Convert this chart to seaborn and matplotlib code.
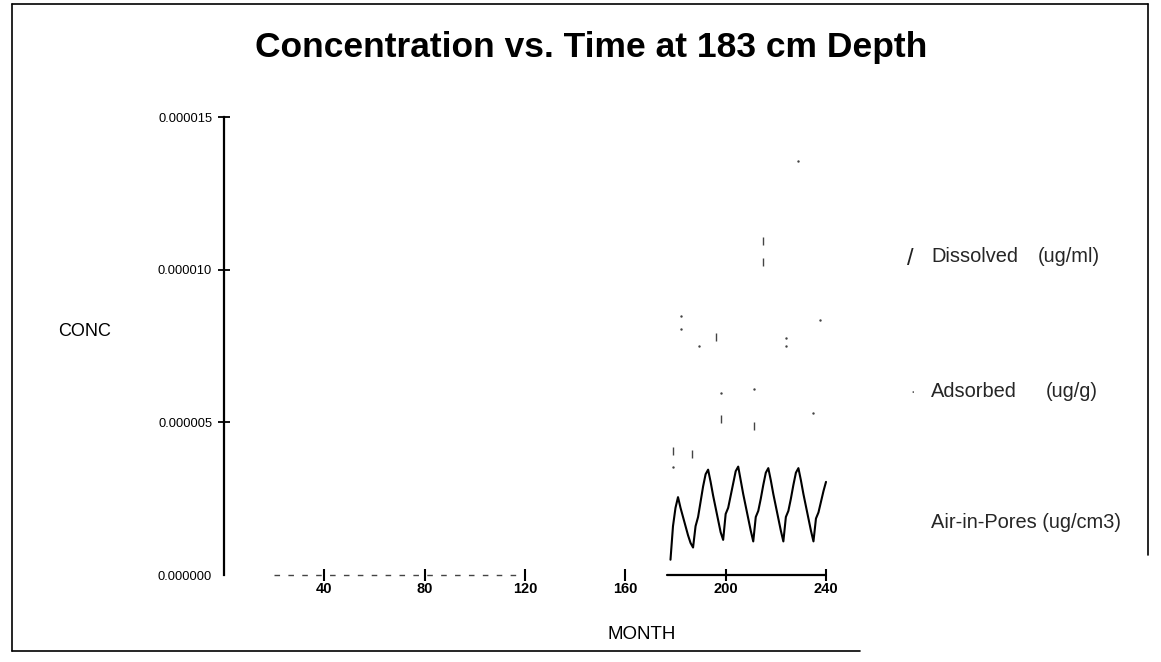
import numpy as np
import pandas as pd
import matplotlib
matplotlib.use('Agg')
import matplotlib.pyplot as plt
from matplotlib.lines import Line2D
from matplotlib.ticker import FormatStrFormatter
import seaborn as sns

# values, concentrations in units of 1e-6
air_months = list(range(178, 241))
air_conc = [0.5, 1.6, 2.2, 2.55, 2.2, 1.9, 1.6, 1.3, 1.05, 0.9,
            1.6, 1.9, 2.4, 2.9, 3.3, 3.45, 3.05, 2.6, 2.2, 1.8, 1.4, 1.15,
            2.0, 2.2, 2.6, 3.0, 3.4, 3.55, 3.1, 2.65, 2.25, 1.85, 1.45, 1.1,
            1.9, 2.1, 2.5, 2.95, 3.35, 3.5, 3.1, 2.65, 2.25, 1.85, 1.45, 1.1,
            1.9, 2.1, 2.5, 2.95, 3.35, 3.5, 3.1, 2.65, 2.25, 1.85, 1.45, 1.1,
            1.85, 2.05, 2.4, 2.75, 3.05]
dissolved_months = [214.7, 214.7, 196.0, 198.0, 211.2, 178.9, 186.5]
dissolved_conc = [10.95, 10.26, 7.8, 5.1, 4.87, 4.05, 3.95]
adsorbed_months = [228.7, 182.1, 182.1, 189.2, 223.9, 223.9, 237.5, 198.0, 211.2, 234.7, 178.9]
adsorbed_conc = [13.55, 8.49, 8.06, 7.5, 7.76, 7.5, 8.36, 5.95, 6.09, 5.3, 3.55]
early_zero_months = [20, 117]
late_zero_months = [176.5, 240]

x_ticks = [40, 80, 120, 160, 200, 240]
y_ticks = [0, 5e-6, 1e-5, 1.5e-5]

title = 'Concentration vs. Time at 183 cm Depth'
legend_items = [('Dissolved', '(ug/ml)'), ('Adsorbed', '(ug/g)'), ('Air-in-Pores (ug/cm3)', '')]

sns.set_theme(style='white')
plt.rcParams['font.family'] = ['Liberation Sans', 'DejaVu Sans']

air_df = pd.DataFrame({'MONTH': air_months, 'CONC': np.array(air_conc) * 1e-6})
dis_df = pd.DataFrame({'MONTH': dissolved_months, 'CONC': np.array(dissolved_conc) * 1e-6})
ads_df = pd.DataFrame({'MONTH': adsorbed_months, 'CONC': np.array(adsorbed_conc) * 1e-6})

W, H = 1161, 662
fig = plt.figure(figsize=(W / 100, H / 100), dpi=100)
ax = fig.add_axes([224 / W, 87 / H, 602 / W, 458 / H])

sns.lineplot(x=early_zero_months, y=[0, 0], ax=ax, color='#444444', lw=1.0,
             linestyle=(0, (4, 6)), clip_on=False)
sns.lineplot(x=late_zero_months, y=[0, 0], ax=ax, color='black', lw=1.6, clip_on=False)
sns.lineplot(data=air_df, x='MONTH', y='CONC', ax=ax, color='black', lw=1.5, clip_on=False)
sns.scatterplot(data=dis_df, x='MONTH', y='CONC', ax=ax, marker='|', s=30, color='#444444',
                linewidth=1.0)
sns.scatterplot(data=ads_df, x='MONTH', y='CONC', ax=ax, marker='.', s=12, color='#444444',
                linewidth=0)

ax.set_xlim(0, 240)
ax.set_ylim(0, 1.5e-5)
ax.set_xticks(x_ticks)
ax.set_yticks(y_ticks)
ax.yaxis.set_major_formatter(FormatStrFormatter('%.6f'))
for lbl in ax.get_xticklabels():
    lbl.set_fontsize(10.5)
    lbl.set_fontweight('bold')
for lbl in ax.get_yticklabels():
    lbl.set_fontsize(9.3)
ax.tick_params(axis='x', bottom=True, direction='inout', length=8, width=1.5, pad=1,
               colors='black')
ax.tick_params(axis='y', left=True, direction='inout', length=9, width=1.3, pad=4,
               colors='black')
ax.yaxis.get_major_ticks()[0].tick1line.set_visible(False)

for side in ['top', 'right', 'bottom']:
    ax.spines[side].set_visible(False)
ax.spines['left'].set_color('black')
ax.spines['left'].set_linewidth(1.6)

ax.set_ylabel('CONC', rotation=0, fontsize=13, color='black', ha='center', va='center')
ax.yaxis.set_label_coords(-0.231, 0.531)
ax.set_xlabel('MONTH', fontsize=13.5, color='black', ha='center', va='center')
ax.xaxis.set_label_coords(0.694, -0.129)

fig.text(591 / W, 1 - 57 / H, title, ha='center', va='baseline', fontsize=25.5,
         fontweight='bold', color='black')

# legend drawn as text beside the plot
ys = [256, 392, 523]
fig.text(910 / W, 1 - 259 / H, '/', ha='center', va='center', fontsize=17, color='#222222',
         fontweight='light')
fig.text(913 / W, 1 - 392 / H, '·', ha='center', va='center', fontsize=10, color='#555555')
fig.text(931 / W, 1 - ys[0] / H, legend_items[0][0], ha='left', va='center', fontsize=14.4)
fig.text(1038 / W, 1 - ys[0] / H, legend_items[0][1], ha='left', va='center', fontsize=14.4)
fig.text(931 / W, 1 - ys[1] / H, legend_items[1][0], ha='left', va='center', fontsize=14.4)
fig.text(1046 / W, 1 - ys[1] / H, legend_items[1][1], ha='left', va='center', fontsize=14.4)
fig.text(931 / W, 1 - ys[2] / H, legend_items[2][0], ha='left', va='center', fontsize=14.4)

# page frame
fig.add_artist(Line2D([11.7 / W, 11.7 / W], [1 - 651 / H, 1 - 4 / H], color='black', lw=1.2))
fig.add_artist(Line2D([11.7 / W, 1148 / W], [1 - 4 / H, 1 - 4 / H], color='black', lw=1.2))
fig.add_artist(Line2D([1148 / W, 1148 / W], [1 - 4 / H, 1 - 555 / H], color='black', lw=1.2))
fig.add_artist(Line2D([11.7 / W, 860 / W], [1 - 651 / H, 1 - 651 / H], color='black', lw=1.2))

fig.savefig('out.png', dpi=100)
